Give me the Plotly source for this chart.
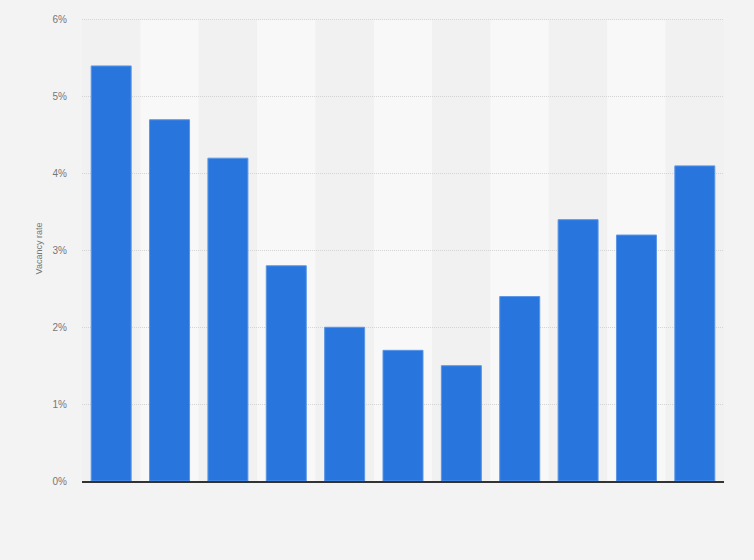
import plotly.graph_objects as go

# vacancy rate per period (x labels are not shown on the chart)
periods = ["2008", "2009", "2010", "2011", "2012", "2013", "2014", "2015", "2016", "2017", "2018"]
vacancy_rate = [5.4, 4.7, 4.2, 2.8, 2.0, 1.7, 1.5, 2.4, 3.4, 3.2, 4.1]
y_ticks = [0, 1, 2, 3, 4, 5, 6]
y_tick_text = ["0%", "1%", "2%", "3%", "4%", "5%", "6%"]

fig = go.Figure()
fig.add_trace(go.Bar(
    x=list(range(len(periods))),
    y=vacancy_rate,
    customdata=periods,
    marker=dict(color="#2876dd", line=dict(color="#5a95e6", width=1)),
    hovertemplate="%{customdata}: %{y}%<extra></extra>",
))

# alternating column bands behind the bars
for i in range(len(periods)):
    fig.add_shape(
        type="rect", xref="x", yref="y",
        x0=i - 0.5, x1=i + 0.5, y0=0, y1=6,
        fillcolor="#f1f1f1" if i % 2 == 0 else "#f8f8f8",
        line=dict(width=0), layer="below",
    )

fig.update_layout(
    width=754, height=560,
    margin=dict(l=82, r=30, t=16, b=79),
    paper_bgcolor="#f3f3f3",
    plot_bgcolor="#f3f3f3",
    bargap=0.315,
    showlegend=False,
    font=dict(family="Arial, Liberation Sans, sans-serif", color="#777777", size=10),
)
fig.update_xaxes(
    range=[-0.5, len(periods) - 0.5],
    showticklabels=False, showgrid=False, zeroline=False,
    showline=True, linecolor="#333333", linewidth=1.5,
)
fig.update_yaxes(
    range=[0, 6.05],
    tickvals=y_ticks, ticktext=y_tick_text,
    showgrid=True, gridcolor="#d4d4d4", griddash="1px,1px", gridwidth=1,
    zeroline=False, ticklabelstandoff=14,
    title=dict(text="Vacancy rate", font=dict(size=9, color="#777777"), standoff=8),
)

fig.write_html(
    "out.html",
    config={"displayModeBar": False},
    post_script="document.body.style.margin='0';",
)
